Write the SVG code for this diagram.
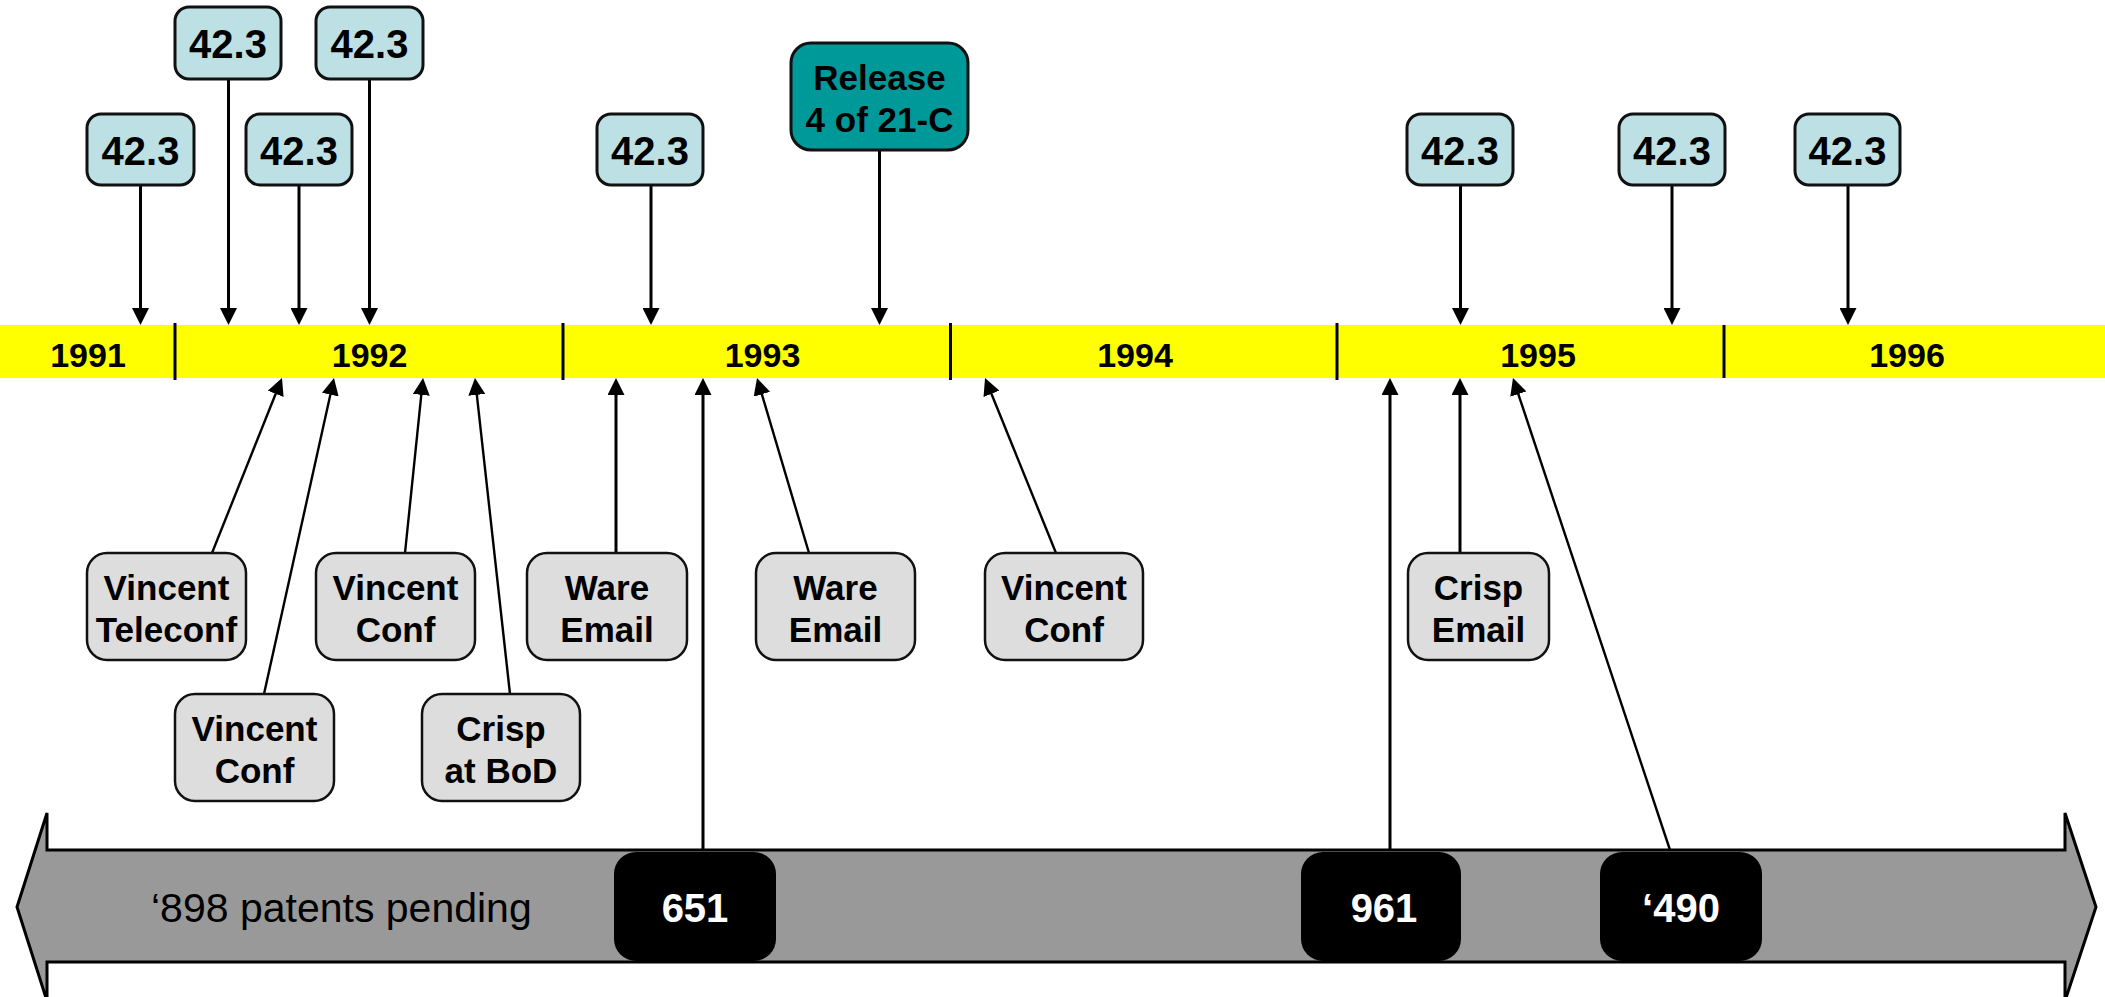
<svg xmlns="http://www.w3.org/2000/svg" width="2105" height="997" viewBox="0 0 2105 997">
<defs>
<style>
.b{font-family:"Liberation Sans",Arial,sans-serif;font-weight:bold;text-anchor:middle;fill:#000}
.yr{font-size:34px}
.n{font-size:40px}
.g{font-size:35px}
.w{fill:#fff;font-size:40px}
.blue{fill:#bce0e3;stroke:#111;stroke-width:3}
.grey{fill:#dddddd;stroke:#111;stroke-width:2.5}
.teal{fill:#009999;stroke:#111;stroke-width:3}
.blk{fill:#000}
.c{stroke:#000;stroke-width:3;fill:none;marker-end:url(#ah)}
.c2{stroke:#000;stroke-width:2.4;fill:none;marker-end:url(#ah)}
.div{stroke:#000;stroke-width:3}
</style>
<marker id="ah" markerUnits="userSpaceOnUse" markerWidth="17" markerHeight="17" refX="3" refY="8.5" orient="auto" viewBox="0 0 17 17">
<path d="M0,0 L17,8.5 L0,17 z" fill="#000"/>
</marker>
</defs>
<rect width="2105" height="997" fill="#fff"/>

<g id="timeline">
<rect x="0" y="325" width="2105" height="53" fill="#ffff00"/>
<line class="div" x1="175" y1="323" x2="175" y2="380"/>
<line class="div" x1="563" y1="323" x2="563" y2="380"/>
<line class="div" x1="950.5" y1="323" x2="950.5" y2="380"/>
<line class="div" x1="1337" y1="323" x2="1337" y2="380"/>
<line class="div" x1="1724" y1="325" x2="1724" y2="378"/>
<text class="b yr" x="88" y="367">1991</text>
<text class="b yr" x="369.6" y="367">1992</text>
<text class="b yr" x="762.5" y="367">1993</text>
<text class="b yr" x="1135" y="367">1994</text>
<text class="b yr" x="1538" y="367">1995</text>
<text class="b yr" x="1907" y="367">1996</text>
</g>

<g id="patent-arrow">
<polygon points="17,907 47,813 47,850 2065,850 2065,813 2096,907 2065,1001 2065,962 47,962 47,1001" fill="#999999" stroke="#000" stroke-width="3" stroke-linejoin="miter"/>
<text x="151" y="922" font-family="Liberation Sans, Arial, sans-serif" font-size="41" fill="#000">‘898 patents pending</text>
</g>

<g id="connectors">
<line class="c" x1="140.5" y1="185" x2="140.5" y2="311"/>
<line class="c" x1="228.5" y1="79" x2="228.5" y2="311"/>
<line class="c" x1="299" y1="185" x2="299" y2="311"/>
<line class="c" x1="369.5" y1="79" x2="369.5" y2="311"/>
<line class="c" x1="651" y1="185" x2="651" y2="311"/>
<line class="c" x1="879.5" y1="150" x2="879.5" y2="311"/>
<line class="c" x1="1460.5" y1="185" x2="1460.5" y2="311"/>
<line class="c" x1="1672" y1="185" x2="1672" y2="311"/>
<line class="c" x1="1848" y1="185" x2="1848" y2="311"/>

<line class="c2" x1="212" y1="553" x2="276.8" y2="391"/>
<line class="c2" x1="264" y1="694" x2="331" y2="391.7"/>
<line class="c2" x1="405" y1="553" x2="421.6" y2="391.9"/>
<line class="c2" x1="510" y1="694" x2="476.5" y2="391.9"/>
<line class="c" x1="616" y1="553" x2="616" y2="392"/>
<line class="c" x1="703" y1="850" x2="703" y2="392"/>
<line class="c2" x1="809" y1="553" x2="761" y2="391.4"/>
<line class="c2" x1="1056" y1="553" x2="990.3" y2="391"/>
<line class="c" x1="1390" y1="850" x2="1390" y2="392"/>
<line class="c" x1="1460" y1="553" x2="1460" y2="392"/>
<line class="c2" x1="1670" y1="850" x2="1517.4" y2="391.3"/>
</g>

<g id="n42-1"><rect class="blue" x="87" y="114" width="107" height="71" rx="14"/><text class="b n" x="140.5" y="165">42.3</text></g>
<g id="n42-2"><rect class="blue" x="175" y="7" width="106" height="72" rx="14"/><text class="b n" x="228" y="58">42.3</text></g>
<g id="n42-3"><rect class="blue" x="246" y="114" width="106" height="71" rx="14"/><text class="b n" x="299" y="165">42.3</text></g>
<g id="n42-4"><rect class="blue" x="316" y="7" width="107" height="72" rx="14"/><text class="b n" x="369.5" y="58">42.3</text></g>
<g id="n42-5"><rect class="blue" x="597" y="114" width="106" height="71" rx="14"/><text class="b n" x="650" y="165">42.3</text></g>
<g id="n42-6"><rect class="blue" x="1407" y="114" width="106" height="71" rx="14"/><text class="b n" x="1460" y="165">42.3</text></g>
<g id="n42-7"><rect class="blue" x="1619" y="114" width="106" height="71" rx="14"/><text class="b n" x="1672" y="165">42.3</text></g>
<g id="n42-8"><rect class="blue" x="1795" y="114" width="105" height="71" rx="14"/><text class="b n" x="1847.5" y="165">42.3</text></g>

<g id="release"><rect class="teal" x="791" y="43" width="177" height="107" rx="20"/><text class="b g" x="879.5" y="90">Release</text><text class="b g" x="879.5" y="132">4 of 21-C</text></g>

<g id="vincent-teleconf"><rect class="grey" x="87" y="553" width="159" height="107" rx="20"/><text class="b g" x="166.5" y="600">Vincent</text><text class="b g" x="166.5" y="642">Teleconf</text></g>
<g id="vincent-conf-1"><rect class="grey" x="175" y="694" width="159" height="107" rx="20"/><text class="b g" x="254.5" y="741">Vincent</text><text class="b g" x="254.5" y="783">Conf</text></g>
<g id="vincent-conf-2"><rect class="grey" x="316" y="553" width="159" height="107" rx="20"/><text class="b g" x="395.5" y="600">Vincent</text><text class="b g" x="395.5" y="642">Conf</text></g>
<g id="crisp-bod"><rect class="grey" x="422" y="694" width="158" height="107" rx="20"/><text class="b g" x="501" y="741">Crisp</text><text class="b g" x="501" y="783">at BoD</text></g>
<g id="ware-email-1"><rect class="grey" x="527" y="553" width="160" height="107" rx="20"/><text class="b g" x="607" y="600">Ware</text><text class="b g" x="607" y="642">Email</text></g>
<g id="ware-email-2"><rect class="grey" x="756" y="553" width="159" height="107" rx="20"/><text class="b g" x="835.5" y="600">Ware</text><text class="b g" x="835.5" y="642">Email</text></g>
<g id="vincent-conf-3"><rect class="grey" x="985" y="553" width="158" height="107" rx="20"/><text class="b g" x="1064" y="600">Vincent</text><text class="b g" x="1064" y="642">Conf</text></g>
<g id="crisp-email"><rect class="grey" x="1408" y="553" width="141" height="107" rx="20"/><text class="b g" x="1478.5" y="600">Crisp</text><text class="b g" x="1478.5" y="642">Email</text></g>

<g id="p651"><rect class="blk" x="614" y="852" width="162" height="109" rx="22"/><text class="b w" x="695" y="922">651</text></g>
<g id="p961"><rect class="blk" x="1301" y="852" width="160" height="109" rx="22"/><text class="b w" x="1384" y="922">961</text></g>
<g id="p490"><rect class="blk" x="1600" y="852" width="162" height="109" rx="22"/><text class="b w" x="1681" y="922">‘490</text></g>
</svg>
